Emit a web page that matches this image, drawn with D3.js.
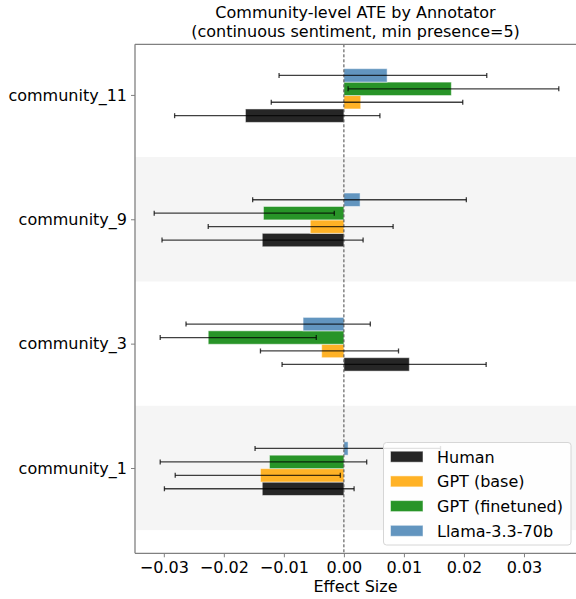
<!DOCTYPE html>
<html>
<head>
<meta charset="utf-8">
<script src="https://cdn.jsdelivr.net/npm/d3@7"></script>
<style>
  body { margin: 0; background: white; }
  text { font-family: "DejaVu Sans", sans-serif; fill: black; }
</style>
</head>
<body>
<script>
// categories, bottom to top
var communities = ["community_1", "community_3", "community_9", "community_11"];
var annotators = ["Human", "GPT (base)", "GPT (finetuned)", "Llama-3.3-70b"];
var colors = ["#262626", "#ffb226", "#289428", "#6295bf"];

// ATE with lower / upper CI, one value per community
var humanAte = [-0.0136, 0.0109, -0.0136, -0.0164];
var humanLo  = [-0.0299, -0.0103, -0.0303, -0.0282];
var humanHi  = [0.0017, 0.0237, 0.0032, 0.0060];

var baseAte = [-0.0139, -0.0037, -0.0056, 0.0028];
var baseLo  = [-0.0281, -0.0139, -0.0226, -0.0121];
var baseHi  = [-0.0006, 0.0091, 0.0082, 0.0198];

var ftAte = [-0.0124, -0.0226, -0.0134, 0.0179];
var ftLo  = [-0.0306, -0.0306, -0.0316, 0.0007];
var ftHi  = [0.0038, -0.0046, -0.0016, 0.0358];

var llamaAte = [0.0007, -0.0068, 0.0027, 0.0072];
var llamaLo  = [-0.0148, -0.0263, -0.0152, -0.0108];
var llamaHi  = [0.0161, 0.0044, 0.0204, 0.0238];

var xTicks = [-0.03, -0.02, -0.01, 0.00, 0.01, 0.02, 0.03];

var series = [
  {ate: humanAte, lo: humanLo, hi: humanHi},
  {ate: baseAte, lo: baseLo, hi: baseHi},
  {ate: ftAte, lo: ftLo, hi: ftHi},
  {ate: llamaAte, lo: llamaLo, hi: llamaHi}
];

var width = 576, height = 599;
var plotLeft = 135, plotRight = 584, plotTop = 44.3, plotBottom = 553.3;
var barH = 0.108;

var x = d3.scaleLinear().domain([-0.0348, 0.0400]).range([plotLeft, plotRight]);
var y = d3.scaleLinear().domain([-0.686, 3.407]).range([plotBottom, plotTop]);

var svg = d3.select("body").append("svg")
  .attr("width", width)
  .attr("height", height);

//=================//
// Shaded bands    //
//=================//
svg.selectAll(".band")
  .data(communities.map(function(c, i) { return i; }).filter(function(i) { return i % 2 == 0; }))
  .enter().append("rect")
  .attr("class", "band")
  .attr("x", plotLeft)
  .attr("width", plotRight - plotLeft)
  .attr("y", function(i) { return y(i + 0.5); })
  .attr("height", function(i) { return y(i - 0.5) - y(i + 0.5); })
  .style("fill", "#f5f5f5");

//=================//
// Bars            //
//=================//
var rows = [];
series.forEach(function(s, k) {
  communities.forEach(function(c, i) {
    rows.push({k: k, pos: i + (k - 1.5) * barH - 0.005, ate: s.ate[i], lo: s.lo[i], hi: s.hi[i]});
  });
});

var barPx = y(0) - y(barH);

svg.selectAll(".bar")
  .data(rows)
  .enter().append("rect")
  .attr("class", "bar")
  .attr("x", function(d) { return x(Math.min(0, d.ate)); })
  .attr("width", function(d) { return Math.abs(x(d.ate) - x(0)); })
  .attr("y", function(d) { return y(d.pos) - barPx / 2; })
  .attr("height", barPx)
  .style("fill", function(d) { return colors[d.k]; })
  .style("stroke", "white")
  .style("stroke-opacity", 0.5)
  .style("stroke-width", 1);

// zero line
svg.append("line")
  .attr("x1", x(0)).attr("x2", x(0))
  .attr("y1", plotTop).attr("y2", plotBottom)
  .style("stroke", "#444")
  .style("stroke-width", 1)
  .style("stroke-dasharray", "3,2");

// error bars
var err = svg.selectAll(".err")
  .data(rows)
  .enter().append("g")
  .attr("class", "err")
  .style("stroke", "black")
  .style("stroke-opacity", 0.75)
  .style("stroke-width", 1.3);

err.append("line")
  .attr("x1", function(d) { return x(d.lo); })
  .attr("x2", function(d) { return x(d.hi); })
  .attr("y1", function(d) { return y(d.pos); })
  .attr("y2", function(d) { return y(d.pos); });

err.selectAll(".cap")
  .data(function(d) { return [{v: d.lo, pos: d.pos}, {v: d.hi, pos: d.pos}]; })
  .enter().append("line")
  .attr("x1", function(d) { return x(d.v); })
  .attr("x2", function(d) { return x(d.v); })
  .attr("y1", function(d) { return y(d.pos) - 2.5; })
  .attr("y2", function(d) { return y(d.pos) + 2.5; });

//=================//
// Axes            //
//=================//
var xAxis = svg.append("g")
  .attr("transform", "translate(0," + plotBottom + ")")
  .call(d3.axisBottom(x).tickValues(xTicks).tickFormat(d3.format(".2f")).tickSize(4).tickPadding(4));
xAxis.select(".domain").remove();
xAxis.selectAll("text").style("font-size", "16px").style("font-family", "DejaVu Sans");
xAxis.selectAll(".tick line").style("stroke", "#808080");

var yAxis = svg.append("g")
  .attr("transform", "translate(" + plotLeft + ",0)")
  .call(d3.axisLeft(y).tickValues(d3.range(communities.length))
    .tickFormat(function(i) { return communities[i]; }).tickSize(4).tickPadding(4));
yAxis.select(".domain").remove();
yAxis.selectAll("text").style("font-size", "16px").style("font-family", "DejaVu Sans");
yAxis.selectAll(".tick line").style("stroke", "#808080");

// spines
svg.append("line")
  .attr("x1", plotLeft).attr("x2", width)
  .attr("y1", plotTop).attr("y2", plotTop)
  .style("stroke", "#808080").style("stroke-width", 1.3);
svg.append("line")
  .attr("x1", plotLeft).attr("x2", width)
  .attr("y1", plotBottom).attr("y2", plotBottom)
  .style("stroke", "#808080").style("stroke-width", 1.3);
svg.append("line")
  .attr("x1", plotLeft).attr("x2", plotLeft)
  .attr("y1", plotTop).attr("y2", plotBottom)
  .style("stroke", "#808080").style("stroke-width", 1.3);

//=================//
// Titles          //
//=================//
var midX = (plotLeft + 576) / 2;
svg.append("text")
  .attr("x", midX).attr("y", 18)
  .attr("text-anchor", "middle")
  .style("font-size", "16px")
  .text("Community-level ATE by Annotator");
svg.append("text")
  .attr("x", midX).attr("y", 37)
  .attr("text-anchor", "middle")
  .style("font-size", "16px")
  .text("(continuous sentiment, min presence=5)");
svg.append("text")
  .attr("x", midX).attr("y", 592)
  .attr("text-anchor", "middle")
  .style("font-size", "16px")
  .text("Effect Size");

//=================//
// Legend          //
//=================//
var legend = svg.append("g").attr("transform", "translate(383.5,442.5)");
legend.append("rect")
  .attr("width", 187.5)
  .attr("height", 102.5)
  .attr("rx", 3)
  .style("fill", "white")
  .style("fill-opacity", 0.85)
  .style("stroke", "#d6d6d6")
  .style("stroke-width", 1);

var items = legend.selectAll(".item")
  .data(annotators)
  .enter().append("g")
  .attr("class", "item")
  .attr("transform", function(d, i) { return "translate(0," + (14.2 + i * 24.7) + ")"; });
items.append("rect")
  .attr("x", 7).attr("y", -5.5)
  .attr("width", 32.5).attr("height", 11)
  .style("fill", function(d, i) { return colors[i]; })
  .style("stroke", "white")
  .style("stroke-opacity", 0.5);
items.append("text")
  .attr("x", 53.5).attr("y", 6)
  .style("font-size", "16px")
  .text(function(d) { return d; });
</script>
</body>
</html>
